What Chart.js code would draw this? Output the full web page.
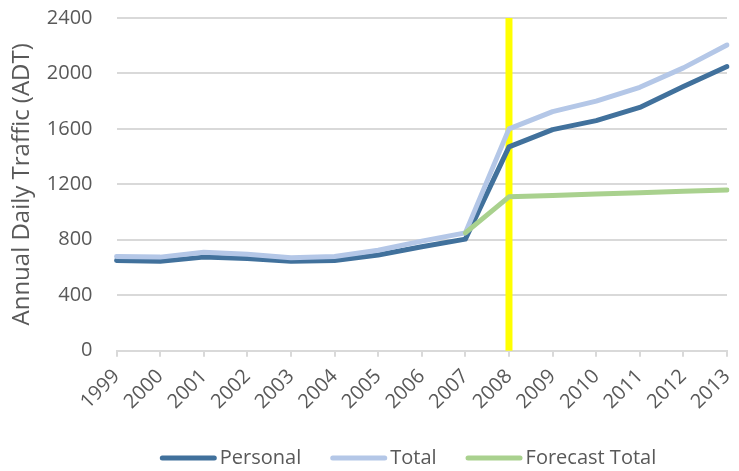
<!DOCTYPE html>
<html>
<head>
<meta charset="utf-8">
<script src="https://cdn.jsdelivr.net/npm/chart.js@4/dist/chart.umd.min.js"></script>
<style>
  html, body { margin: 0; padding: 0; background: #ffffff; }
  #wrap { width: 739px; height: 471px; }
</style>
</head>
<body>
<div id="wrap"><canvas id="c" width="739" height="471"></canvas></div>
<script>
// Annual daily traffic by year
const years = ['1999','2000','2001','2002','2003','2004','2005','2006','2007','2008','2009','2010','2011','2012','2013'];
const personal = [650, 645, 675, 665, 645, 650, 690, 750, 805, 1470, 1595, 1660, 1755, 1905, 2050];
const total    = [680, 675, 710, 695, 670, 680, 725, 790, 850, 1600, 1725, 1800, 1900, 2040, 2205];
const forecastTotal = [null, null, null, null, null, null, null, null, 850, 1110, 1120, 1130, 1140, 1150, 1160];
const yTicks = [0, 400, 800, 1200, 1600, 2000, 2400];
const markerYear = '2008';

const FONT = '"Open Sans", Lato, "Liberation Sans", sans-serif';
const TEXT = '#595959';
const GRID = '#d9d9d9';

// Vertical yellow marker at the start of the forecast period
const markerLine = {
  id: 'markerLine',
  beforeDatasetsDraw(chart) {
    const x = chart.scales.x.getPixelForValue(years.indexOf(markerYear));
    const y = chart.scales.y;
    const top = y.getPixelForValue(yTicks[yTicks.length - 1]);
    const bottom = y.getPixelForValue(0);
    const ctx = chart.ctx;
    ctx.save();
    ctx.fillStyle = '#ffff00';
    ctx.fillRect(x - 3.5, top, 7, bottom - top);
    ctx.restore();
  }
};

// Legend row under the axis: a short rounded line swatch, then the series name
const lineLegend = {
  id: 'lineLegend',
  afterDraw(chart, args, opts) {
    const ctx = chart.ctx;
    const sw = opts.swatch, gap = opts.gap, itemGap = opts.itemGap;
    ctx.save();
    ctx.font = `${opts.size}px ${FONT}`;
    const items = chart.data.datasets.map(ds => ({ ds, w: ctx.measureText(ds.label).width }));
    const totalW = items.reduce((s, it) => s + sw + gap + it.w, 0) + itemGap * (items.length - 1);
    let x = opts.centerX - totalW / 2;
    const y = opts.y;
    items.forEach(it => {
      ctx.strokeStyle = it.ds.borderColor;
      ctx.lineWidth = it.ds.borderWidth;
      ctx.lineCap = 'round';
      ctx.beginPath();
      ctx.moveTo(x + 2.5, y);
      ctx.lineTo(x + sw - 2.5, y);
      ctx.stroke();
      ctx.fillStyle = TEXT;
      ctx.textAlign = 'left';
      ctx.textBaseline = 'middle';
      ctx.fillText(it.ds.label, x + sw + gap, y);
      x += sw + gap + it.w + itemGap;
    });
    ctx.restore();
  }
};

const lineStyle = { borderWidth: 5, pointRadius: 0, tension: 0, borderCapStyle: 'round', borderJoinStyle: 'round', fill: false };

new Chart(document.getElementById('c'), {
  type: 'line',
  data: {
    labels: years,
    datasets: [
      { label: 'Personal', data: personal, borderColor: '#41719c', backgroundColor: '#41719c', order: 3, ...lineStyle },
      { label: 'Total', data: total, borderColor: '#b4c7e7', backgroundColor: '#b4c7e7', order: 2, ...lineStyle },
      { label: 'Forecast Total', data: forecastTotal, borderColor: '#a9d18e', backgroundColor: '#a9d18e', order: 1, ...lineStyle }
    ]
  },
  options: {
    responsive: false,
    animation: false,
    layout: { padding: { left: 8, right: 12, top: 2, bottom: 49 } },
    plugins: {
      tooltip: { enabled: false },
      legend: { display: false },
      lineLegend: { swatch: 57, gap: 3, itemGap: 29, size: 20, centerX: 408, y: 458 }
    },
    scales: {
      x: {
        offset: false,
        afterFit(scale) { scale.paddingRight = 0; },
        grid: { display: true, drawOnChartArea: false, drawTicks: true, tickLength: 6, tickColor: GRID, lineWidth: 2 },
        border: { display: true, color: GRID, width: 2 },
        ticks: { maxRotation: 45, minRotation: 45, autoSkip: false, color: TEXT, font: { family: FONT, size: 20 }, padding: 8 }
      },
      y: {
        min: 0,
        max: 2400,
        afterBuildTicks(axis) { axis.ticks = yTicks.map(v => ({ value: v })); },
        grid: { color: GRID, lineWidth: 2, drawTicks: true, tickLength: 18, tickColor: 'rgba(0,0,0,0)' },
        border: { display: false },
        ticks: { color: TEXT, font: { family: FONT, size: 20 }, padding: 6, callback: v => String(v) },
        title: { display: true, text: 'Annual Daily Traffic (ADT)', color: TEXT, font: { family: FONT, size: 24 }, padding: { top: 0, bottom: 4 } }
      }
    }
  },
  plugins: [markerLine, lineLegend]
});
</script>
</body>
</html>
